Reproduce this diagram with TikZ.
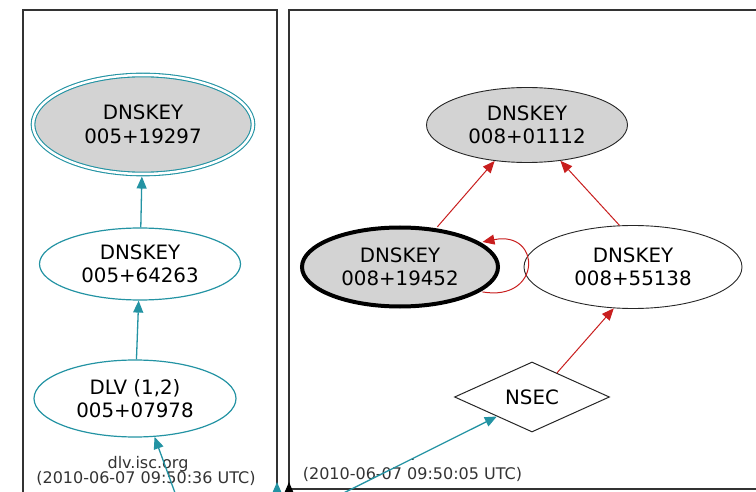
\documentclass[tikz,border=0pt]{standalone}
\usepackage{fontspec}
\setmainfont{DejaVu Sans}
\usetikzlibrary{shapes.geometric,arrows.meta}
\definecolor{tealc}{HTML}{2393A3}
\definecolor{redc}{HTML}{C81E1E}
\definecolor{grayf}{HTML}{D3D3D3}
\begin{document}
\begin{tikzpicture}[x=1pt,y=-1pt,
  nodefont/.style={font=\fontsize{19.8}{23.5}\selectfont, align=center, inner sep=0pt},
  ell/.style={nodefont, ellipse},
  tealarr/.style={draw=tealc, line width=1.3pt, -{Triangle[length=12pt,width=10pt]}},
  redarr/.style={draw=redc, line width=1pt, -{Triangle[length=12pt,width=10pt]}},
  blackarr/.style={draw=black, line width=1.2pt, -{Triangle[length=12pt,width=10pt]}},
  cluster/.style={draw=black!80, line width=1.2pt},
  clabel/.style={font=\fontsize{16}{18}\selectfont, anchor=base, inner sep=0pt, text=black!80}
]
\clip (0,0) rectangle (756,492);
\draw[cluster] (23,10) rectangle (277,520);
\draw[cluster] (289,10) rectangle (800,489);

% left cluster
\node[ell, draw=tealc, line width=1.1pt, double=white, double distance=2.5pt, fill=grayf,
      minimum width=220pt, minimum height=99pt] (k19297) at (143,124.5) {DNSKEY\\005+19297};
\node[ell, draw=tealc, line width=1.2pt, minimum width=201pt, minimum height=72pt] (k64263) at (140,264) {DNSKEY\\005+64263};
\node[ell, draw=tealc, line width=1.2pt, minimum width=202pt, minimum height=77pt] (dlv) at (135,398.5) {DLV (1,2)\\005+07978};
\node[clabel] (lname) at (148,468) {dlv.isc.org};
\node[clabel] (ltime) at (146,483) {(2010-06-07 09:50:36 UTC)};

% right cluster
\node[ell, draw=black!85, line width=0.9pt, fill=grayf, minimum width=201pt, minimum height=75pt] (k01112) at (527,125) {DNSKEY\\008+01112};
\node[ell, draw=black, line width=4pt, fill=grayf, minimum width=196pt, minimum height=79pt] (k19452) at (400,267) {DNSKEY\\008+19452};
\node[ell, draw=black!85, line width=0.9pt, minimum width=218pt, minimum height=83pt] (k55138) at (633,267) {DNSKEY\\008+55138};
\node[nodefont, diamond, aspect=2, draw=black!85, line width=1pt, minimum width=155pt, minimum height=70pt] (nsec) at (532,397) {NSEC};
\node[clabel] (rname) at (413,460) {.};
\node[clabel] (rtime) at (412.5,479.5) {(2010-06-07 09:50:05 UTC)};

% free ends below the picture
\coordinate (inL) at (182,512);
\coordinate (inR) at (305,512.3);
\coordinate (b1) at (277,512);
\coordinate (b1t) at (277,482);
\coordinate (b2) at (289,512);
\coordinate (b2t) at (289,482);

% edges
\draw[tealarr, shorten >=2pt] (k64263) -- (k19297);
\draw[tealarr] (dlv) -- (k64263);
\draw[tealarr] (inL) -- (dlv.-63);
\draw[tealarr] (inR) -- (nsec.-151.5);
\draw[tealarr] (b1) -- (b1t);
\draw[blackarr] (b2) -- (b2t);

\draw[redarr, shorten <=2pt] (k19452.47) -- (k01112.-132);
\draw[redarr] (k55138.108) -- (k01112.-47);
\draw[redarr] (nsec.44) -- (k55138.-115);
\draw[redarr, shorten <=2pt, shorten >=2pt] (k19452.-17) .. controls (542,302) and (542,230) .. (k19452.17);
\end{tikzpicture}
\end{document}
